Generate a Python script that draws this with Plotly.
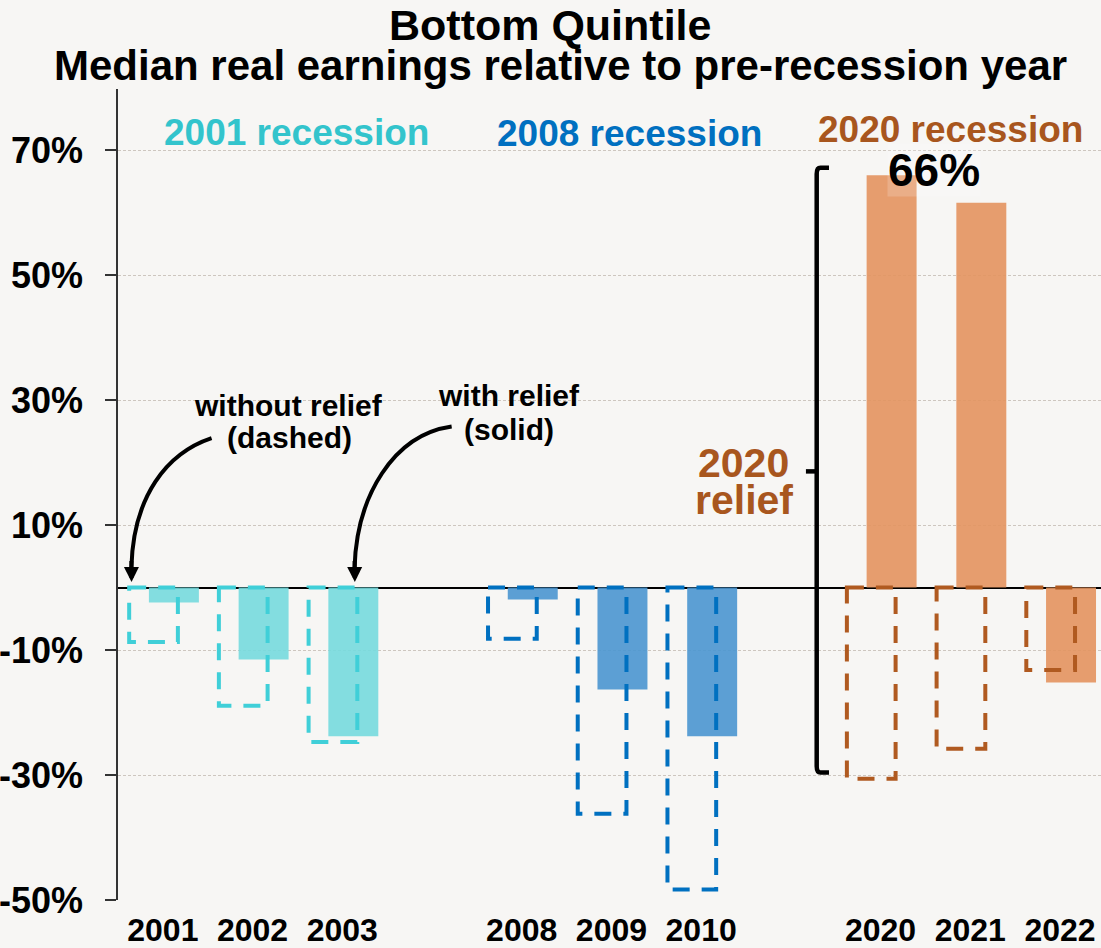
import plotly.graph_objects as go

# ---------------- data ----------------
groups = [["2001", "2002", "2003"], ["2008", "2009", "2010"], ["2020", "2021", "2022"]]
group_names = ["2001 recession", "2008 recession", "2020 recession"]
with_relief = [-2.4, -11.5, -23.8, -1.9, -16.3, -23.8, 66.0, 61.6, -15.2]
without_relief = [-8.7, -18.9, -24.7, -8.2, -36.2, -48.3, -30.6, -25.8, -13.2]
y_ticks = [-50, -30, -10, 10, 30, 50, 70]
y_tick_labels = [f"{v}%" for v in y_ticks]

# ---------------- styles ----------------
solid_colors = ["rgba(117,218,222,0.9)", "rgba(74,150,208,0.9)", "rgba(227,148,95,0.9)"]
dash_colors = ["#40CFD8", "#0070C0", "#B05A20"]
label_colors = ["#33C4CC", "#0070C0", "#A8561E"]
BG = "#F7F6F4"
FONT = "Liberation Sans, Arial, sans-serif"

# positions: each group occupies 3 slots, one empty slot between groups
years, pos, gidx = [], [], []
for g, ys in enumerate(groups):
    for i, y in enumerate(ys):
        years.append(y)
        pos.append(g * 4 + i)
        gidx.append(g)

BAR_W = 0.557
SOLID_SHIFT = 0.123
DASH_SHIFT = -0.104
DASH_HALF = 0.2715

fig = go.Figure()

for g in range(len(groups)):
    xs = [p for p, gi in zip(pos, gidx) if gi == g]
    vs = [v for v, gi in zip(with_relief, gidx) if gi == g]
    fig.add_trace(go.Bar(
        x=xs, y=vs, width=BAR_W, offset=SOLID_SHIFT - BAR_W / 2,
        marker=dict(color=solid_colors[g], line=dict(width=0)),
        showlegend=False, hoverinfo="skip",
    ))

shapes = []
for p, v, g in zip(pos, without_relief, gidx):
    shapes.append(dict(
        type="rect", xref="x", yref="y",
        x0=p + DASH_SHIFT - DASH_HALF, x1=p + DASH_SHIFT + DASH_HALF,
        y0=0, y1=v,
        line=dict(color=dash_colors[g], width=4, dash="17px,12px"),
        fillcolor="rgba(0,0,0,0)", layer="above",
    ))

# bracket for 2020 relief
shapes.append(dict(
    type="path", xref="x", yref="y",
    path="M 7.425,67.2 L 7.33,67.2 Q 7.288,67.2 7.288,66.2 L 7.288,-28.6 Q 7.288,-29.6 7.33,-29.6 L 7.425,-29.6",
    line=dict(color="black", width=4.5), layer="above",
))
shapes.append(dict(type="line", xref="x", yref="y", x0=7.168, x1=7.288, y0=18.6, y1=18.6,
                   line=dict(color="black", width=4.5), layer="above"))

# curved arrows
shapes.append(dict(
    type="path", xref="x", yref="y",
    path="M 0.543,23.92 C 0.041,21.52 -0.331,14.58 -0.351,3.2",
    line=dict(color="black", width=4), layer="above",
))
shapes.append(dict(
    type="path", xref="x", yref="y",
    path="M 3.219,25.78 C 2.567,24.45 2.159,14.58 2.137,3.2",
    line=dict(color="black", width=4), layer="above",
))

annotations = []
# arrow heads
for (tx, ty, sx, sy) in [(-0.349, 0.9, -0.351, 4.5), (2.140, 0.9, 2.137, 4.5)]:
    annotations.append(dict(
        x=tx, y=ty, ax=sx, ay=sy, xref="x", yref="y", axref="x", ayref="y",
        text="", showarrow=True, arrowhead=2, arrowsize=0.75, arrowwidth=4,
        arrowcolor="black", standoff=0,
    ))

# recession labels
for name, col, (lx, ly) in zip(group_names, label_colors, [(1.49, 72.85), (5.206, 72.6), (8.774, 73.25)]):
    annotations.append(dict(x=lx, y=ly, xref="x", yref="y", text=name, showarrow=False,
                            xanchor="center", yanchor="middle",
                            font=dict(family=FONT, size=37, color=col, weight="bold")))

def txt(x, y, s, size, color="black", **kw):
    d = dict(x=x, y=y, xref="x", yref="y", text=s, showarrow=False,
             xanchor="center", yanchor="middle",
             font=dict(family=FONT, size=size, color=color, weight="bold"))
    d.update(kw)
    annotations.append(d)

txt(1.405, 29.17, "without relief", 30)
txt(1.41, 24.08, "(dashed)", 30)
txt(3.857, 30.69, "with relief", 30)
txt(3.857, 25.36, "(solid)", 30)
txt(6.477, 19.92, "2020", 41, label_colors[2])
txt(6.477, 14.0, "relief", 41, label_colors[2])
txt(8.601, 66.77, f"{with_relief[6]:.0f}%", 46, bgcolor="rgba(255,255,255,0.18)", borderpad=0)

# titles
annotations.append(dict(x=0.4395, y=1.0789, xref="paper", yref="paper", text="Bottom Quintile",
                        showarrow=False, xanchor="center", yanchor="middle",
                        font=dict(family=FONT, size=43, color="black", weight="bold")))
annotations.append(dict(x=0.4497, y=1.029, xref="paper", yref="paper",
                        text="Median real earnings relative to pre-recession year",
                        showarrow=False, xanchor="center", yanchor="middle",
                        font=dict(family=FONT, size=42, color="black", weight="bold")))

fig.update_layout(
    width=1101, height=948,
    margin=dict(l=118, r=0, t=89, b=48, autoexpand=False),
    paper_bgcolor=BG, plot_bgcolor=BG,
    barmode="overlay",
    shapes=shapes, annotations=annotations,
    showlegend=False,
    xaxis=dict(
        range=[-0.5, 10.457], tickmode="array", tickvals=pos, ticktext=years,
        showgrid=False, zeroline=False, showline=False, ticks="",
        automargin=False, ticklabelstandoff=8,
        tickfont=dict(family=FONT, size=32, color="black", weight="bold"),
    ),
    yaxis=dict(
        range=[-50, 79.8], tickmode="array", tickvals=y_ticks, ticktext=y_tick_labels,
        showgrid=True, gridcolor="#CDC6BF", gridwidth=1, griddash="3px,2px",
        zeroline=True, zerolinecolor="black", zerolinewidth=1.5,
        showline=True, linecolor="#333333", linewidth=1.5,
        ticks="outside", ticklen=11, tickcolor="#333333", tickwidth=1.5,
        automargin=False, ticklabelstandoff=15,
        tickfont=dict(family=FONT, size=36, color="black", weight="bold"),
    ),
)

fig.write_html(
    "out.html",
    config={"displayModeBar": False},
    post_script="document.body.style.margin='0';document.body.style.overflow='hidden';",
)
